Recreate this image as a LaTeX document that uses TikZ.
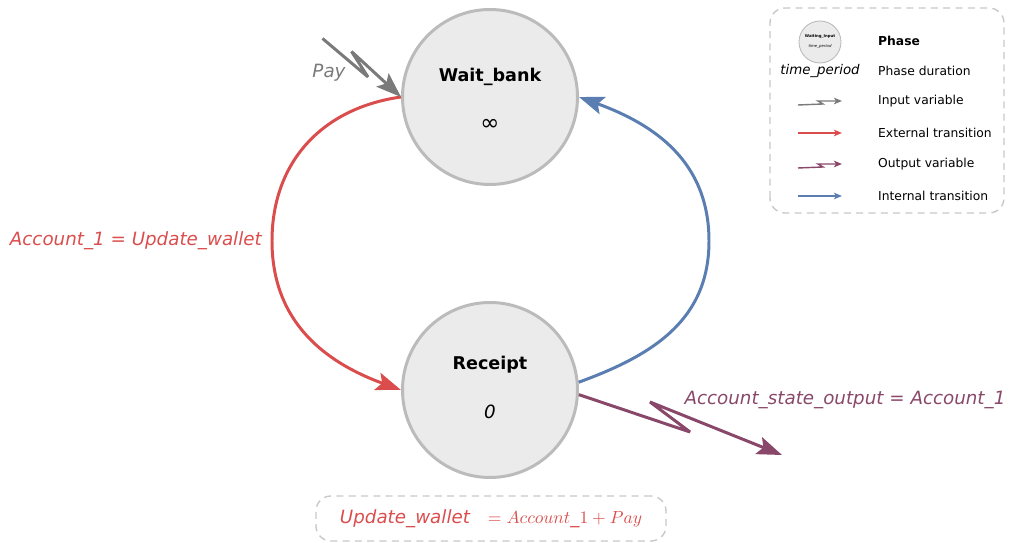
\documentclass[tikz,border=0pt]{standalone}
\usepackage{fontspec}
\setmainfont{DejaVu Sans}
\usetikzlibrary{arrows.meta,positioning}
\definecolor{extred}{RGB}{219,77,77}
\definecolor{intblue}{RGB}{90,125,178}
\definecolor{outpurple}{RGB}{137,72,106}
\definecolor{ingray}{RGB}{122,122,122}
\definecolor{phasefill}{RGB}{235,235,235}
\definecolor{phaseline}{RGB}{187,187,187}
\definecolor{boxline}{RGB}{200,200,200}
\tikzset{
  phase/.style   = {circle, draw=phaseline, line width=1.7pt, fill=phasefill,
                    minimum size=3.5cm, inner sep=0pt},
  conn/.style    = {line width=1.7pt, line join=bevel,
                    -{Stealth[length=5mm,width=3.6mm,inset=1mm]}},
  lconn/.style   = {line width=0.8pt, -{Stealth[length=1.6mm,width=1.3mm,inset=0.4mm]}},
  note/.style    = {draw=boxline, line width=0.8pt, dash pattern=on 4pt off 3pt,
                    rounded corners=0.3cm},
  lbl/.style     = {font=\fontsize{10.4}{12}\selectfont\itshape},
  legtext/.style = {font=\fontsize{7}{8}\selectfont, anchor=west},
}

\begin{document}
\begin{tikzpicture}
  \useasboundingbox (0,0) rectangle (20.22,10.86);
  % phases
  \node[phase] (wb) at (9.8,8.92) {};
  \node[phase] (rc) at (9.8,3.06) {};
  \node[font=\bfseries] (wbname) at (9.8,9.33) {Wait\_bank};
  \node[font=\fontsize{13}{14}\selectfont] (wbtime) at (9.8,8.37) {∞};
  \node[font=\bfseries] (rcname) at (9.8,3.56) {Receipt};
  \node[lbl] (rctime) at (9.8,2.62) {0};

  \coordinate (lmid) at (5.44,6.04);
  \coordinate (rmid) at (14.18,6.04);
  \coordinate (paystart) at (6.45,10.09);
  \coordinate (payk1) at (7.36,9.32);
  \coordinate (payk2) at (7.03,9.83);
  \coordinate (outk1) at (13.8,2.22);
  \coordinate (outk2) at (13.0,2.82);
  \coordinate (outend) at (15.64,1.76);

  % transitions
  \draw[conn, extred] (wb.west) to[out=188,in=90,looseness=1.05] (lmid)
    to[out=-90,in=160,looseness=1.05] (rc.west);
  \draw[conn, intblue] (rc.5) to[out=20,in=-90,looseness=1.05] (rmid)
    to[out=90,in=-20,looseness=1.05] (wb.east);
  \draw[conn, ingray] (paystart) -- (payk1) -- (payk2) -- (wb.west);
  \draw[conn, outpurple] (rc.-3) -- (outk1) -- (outk2) -- (outend);

  \node[lbl, text=ingray] (paylbl) at (6.58,9.4) {Pay};
  \node[lbl, text=extred, left=0.08cm of lmid] (extlbl) {Account\_1 = Update\_wallet};
  \node[lbl, text=outpurple] (outlbl) at (16.9,2.86) {Account\_state\_output = Account\_1};

  % update rule
  \node[note, minimum width=7cm, minimum height=0.9cm, text=extred] (rule) at (9.82,0.49)
    {\fontsize{10.4}{12}\selectfont\itshape Update\_wallet\hspace{0.36cm}$= Account\_1 + Pay$};

  % legend
  \draw[note] (15.4,6.6) rectangle (20.08,10.7);
  \node[circle, draw=phaseline, line width=0.5pt, fill=phasefill, minimum size=0.84cm,
        inner sep=0pt] (legphase) at (16.4,10.02) {};
  \node[font=\fontsize{2.2}{3}\selectfont\bfseries] (legname) at (16.4,10.14) {Waiting\_Input};
  \node[font=\fontsize{2.2}{3}\selectfont\itshape] (legtime) at (16.4,9.94) {time\_period};
  \node[font=\fontsize{7.6}{9}\selectfont\itshape] (legdur) at (16.4,9.44) {time\_period};

  \node[legtext, font=\fontsize{7}{8}\selectfont\bfseries] (lt1) at (17.44,10.04) {Phase};
  \node[legtext] (lt2) at (17.44,9.44) {Phase duration};
  \node[legtext] (lt3) at (17.44,8.84) {Input variable};
  \node[legtext] (lt4) at (17.44,8.2) {External transition};
  \node[legtext] (lt5) at (17.44,7.58) {Output variable};
  \node[legtext] (lt6) at (17.44,6.94) {Internal transition};

  \coordinate (li1) at (15.96,8.76);
  \coordinate (li2) at (16.46,8.78);
  \coordinate (li3) at (16.36,8.84);
  \coordinate (li4) at (16.84,8.84);
  \draw[lconn, ingray] (li1) -- (li2) -- (li3) -- (li4);
  \coordinate (le1) at (15.96,8.2);
  \coordinate (le2) at (16.84,8.2);
  \draw[lconn, extred] (le1) -- (le2);
  \coordinate (lo1) at (15.96,7.5);
  \coordinate (lo2) at (16.46,7.52);
  \coordinate (lo3) at (16.36,7.58);
  \coordinate (lo4) at (16.84,7.58);
  \draw[lconn, outpurple] (lo1) -- (lo2) -- (lo3) -- (lo4);
  \coordinate (lb1) at (15.96,6.94);
  \coordinate (lb2) at (16.84,6.94);
  \draw[lconn, intblue] (lb1) -- (lb2);
\end{tikzpicture}
\end{document}
